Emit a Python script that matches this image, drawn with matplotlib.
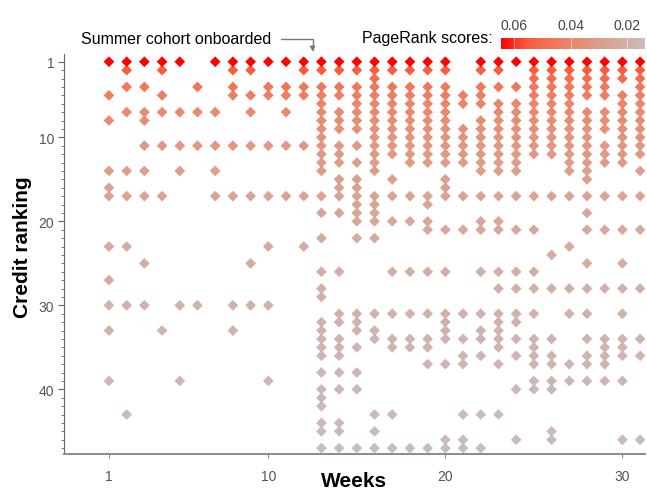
import matplotlib
matplotlib.use('Agg')
import numpy as np
import matplotlib.pyplot as plt
from matplotlib.colors import LinearSegmentedColormap, LogNorm

plt.rcParams['font.family'] = ['Liberation Sans', 'DejaVu Sans']

# credit ranks present in each week
weeks = list(range(1, 32))
w01 = [1, 5, 8, 14, 16, 17, 23, 27, 30, 33, 39]
w02 = [1, 2, 4, 7, 14, 17, 23, 30, 43]
w03 = [1, 4, 7, 8, 11, 14, 17, 25, 30]
w04 = [1, 2, 5, 7, 11, 17, 33]
w05 = [1, 7, 11, 14, 30, 39]
w06 = [4, 7, 11, 30]
w07 = [1, 7, 11, 14, 17]
w08 = [1, 2, 4, 5, 11, 17, 30, 33]
w09 = [1, 2, 5, 7, 11, 17, 25, 30]
w10 = [1, 4, 5, 11, 17, 23, 30, 39]
w11 = [1, 4, 5, 7, 11, 17]
w12 = [1, 2, 4, 5, 11, 17, 23]
w13 = [1, 2, 4, 5, 6, 7, 8, 9, 10, 11, 12, 13, 14, 17, 19, 22, 26, 28, 29,
       32, 33, 34, 35, 36, 38, 40, 41, 42, 44, 45, 47]
w14 = [1, 2, 4, 5, 7, 8, 9, 11, 12, 13, 15, 16, 17, 19, 26, 31, 32, 34, 35,
       36, 38, 40, 44, 45, 47]
w15 = [1, 2, 4, 5, 6, 7, 8, 9, 11, 13, 15, 16, 17, 18, 19, 20, 22, 31, 32,
       33, 35, 38, 40, 47]
w16 = [1, 2, 3, 4, 5, 6, 7, 8, 9, 10, 11, 12, 13, 14, 17, 18, 19, 20, 22,
       31, 33, 34, 43, 45, 47]
w17 = [1, 2, 4, 5, 6, 7, 8, 9, 10, 11, 12, 15, 17, 20, 26, 31, 34, 35, 43, 47]
w18 = [1, 2, 4, 5, 6, 7, 8, 9, 10, 11, 12, 13, 17, 20, 26, 31, 34, 35, 47]
w19 = [1, 2, 4, 5, 6, 7, 8, 9, 10, 11, 12, 13, 17, 18, 20, 21, 26, 31, 34,
       35, 37, 47]
w20 = [1, 2, 4, 5, 6, 7, 8, 9, 10, 11, 12, 13, 15, 16, 17, 21, 26, 31, 32,
       33, 34, 37, 46, 47]
w21 = [5, 6, 9, 10, 11, 12, 13, 17, 21, 31, 34, 36, 37, 43, 46, 47]
w22 = [1, 2, 4, 5, 6, 8, 9, 10, 11, 12, 13, 14, 17, 20, 21, 26, 31, 33, 34,
       36, 43, 47]
w23 = [1, 2, 4, 6, 7, 8, 9, 10, 11, 12, 13, 14, 17, 20, 21, 26, 28, 31, 32,
       33, 34, 35, 37, 43]
w24 = [1, 4, 6, 7, 8, 9, 10, 11, 12, 13, 14, 17, 21, 26, 28, 31, 32, 34, 36,
       40, 46]
w25 = [1, 2, 3, 4, 5, 6, 7, 8, 9, 10, 11, 12, 17, 21, 26, 28, 31, 34, 35, 36,
       37, 39, 40]
w26 = [1, 2, 3, 4, 5, 6, 7, 8, 9, 10, 11, 12, 17, 24, 28, 34, 36, 37, 39, 40,
       45, 46]
w27 = [1, 2, 3, 4, 5, 6, 7, 8, 9, 10, 11, 12, 13, 14, 17, 23, 28, 31, 37, 39]
w28 = [1, 2, 3, 4, 5, 7, 8, 9, 10, 11, 12, 13, 14, 15, 17, 19, 21, 25, 28, 31,
       34, 36, 37, 39]
w29 = [1, 2, 3, 4, 5, 7, 8, 9, 11, 12, 13, 17, 21, 28, 34, 35, 36, 37, 39]
w30 = [1, 2, 3, 5, 6, 7, 8, 9, 10, 11, 12, 13, 17, 21, 25, 28, 31, 34, 35, 36,
       39, 46]
w31 = [1, 2, 3, 4, 5, 6, 7, 8, 9, 10, 11, 12, 14, 17, 21, 28, 34, 36, 46]
ranks_by_week = [w01, w02, w03, w04, w05, w06, w07, w08, w09, w10, w11, w12,
                 w13, w14, w15, w16, w17, w18, w19, w20, w21, w22, w23, w24,
                 w25, w26, w27, w28, w29, w30, w31]

x_ticks = [1, 10, 20, 30]
y_ticks = [1, 10, 20, 30, 40]
score_ticks = [0.06, 0.04, 0.02]
score_span = [0.0645, 0.0138]   # left and right end of the colour bar

cmap = LinearSegmentedColormap.from_list('pr', [
    (0.0, '#ff0000'), (0.18, '#fa5c3c'), (0.4, '#ef7c60'),
    (0.6, '#e3947e'), (0.75, '#d9a596'), (0.88, '#d2b0a7'), (1.0, '#c8bcbc')])

xs, ys = [], []
for w, ranks in zip(weeks, ranks_by_week):
    xs += [w] * len(ranks)
    ys += ranks
xs = np.array(xs)
ys = np.array(ys)
order = np.argsort(-ys)  # red (top ranks) drawn last

fig = plt.figure(figsize=(6.47, 4.89), dpi=100)
ax = fig.add_axes([0.0989, 0.0695, 0.8981, 0.818])
ax.scatter(xs[order], ys[order], c=ys[order], cmap=cmap, norm=LogNorm(1, 47),
           marker='D', s=30, linewidths=0, zorder=3)
ax.set_xlim(-1.54, 31.28)
ax.set_ylim(47.7, 0.08)

for s in ['top', 'right']:
    ax.spines[s].set_visible(False)
ax.spines['left'].set_color('#666666')
ax.spines['bottom'].set_color('#8a8a8a')
ax.spines['bottom'].set_linewidth(1.4)

tick_font = {'family': ['Liberation Sans Narrow', 'Liberation Sans'], 'size': 10}
ax.set_xticks(x_ticks)
ax.set_xticklabels([str(t) for t in x_ticks], fontdict=tick_font, color='#555555')
ax.set_yticks(y_ticks)
ax.set_yticklabels([str(t) for t in y_ticks], fontdict=tick_font, color='#555555')
ax.set_yticks(range(1, 48), minor=True)
ax.tick_params(axis='x', length=3, color='#888888', pad=8)
ax.tick_params(axis='y', which='major', length=4, color='#666666', pad=3)
ax.tick_params(axis='y', which='minor', length=2, color='#666666')

ax.set_xlabel('Weeks', fontsize=15, fontweight='bold')
ax.xaxis.set_label_coords(0.5, -0.065)
ax.xaxis.label.set_va('center')
ax.set_ylabel('Credit ranking', fontsize=15, fontweight='bold')
ax.yaxis.set_label_coords(-0.072, 0.52)
ax.yaxis.label.set_va('center')

# annotation
fig.text(271 / 647, 1 - 39 / 489, 'Summer cohort onboarded', ha='right',
         va='center', fontsize=11.5)
ax.annotate('', xy=(12.5, -0.2), xytext=(10.7, -1.7), annotation_clip=False,
            arrowprops=dict(arrowstyle='-|>', color='#777777', lw=1,
                            connectionstyle='angle,angleA=0,angleB=90,rad=0',
                            shrinkA=0, shrinkB=0, mutation_scale=7))

# colour bar
fig.text(493 / 647, 1 - 39 / 489, 'PageRank scores:', ha='right', va='center',
         fontsize=11.5)
cax = fig.add_axes([501 / 647, 1 - 50 / 489, 144 / 647, 11 / 489])
grad = np.linspace(0, 1, 256).reshape(1, -1)
cax.imshow(grad, cmap=cmap, aspect='auto',
           extent=[score_span[0], score_span[1], 0, 1])
cax.set_xlim(score_span[0], score_span[1])
cax.set_yticks([])
cax.set_xticks(score_ticks)
cax.set_xticklabels(['%.2f' % t for t in score_ticks])
cax.xaxis.tick_top()
cax.tick_params(axis='x', length=0, pad=4, labelsize=10, labelcolor='#444444')
for t in score_ticks:
    cax.axvline(t, color='white', lw=0.6, alpha=0.6)
for s in cax.spines.values():
    s.set_visible(False)

fig.savefig('out.png', dpi=100)
